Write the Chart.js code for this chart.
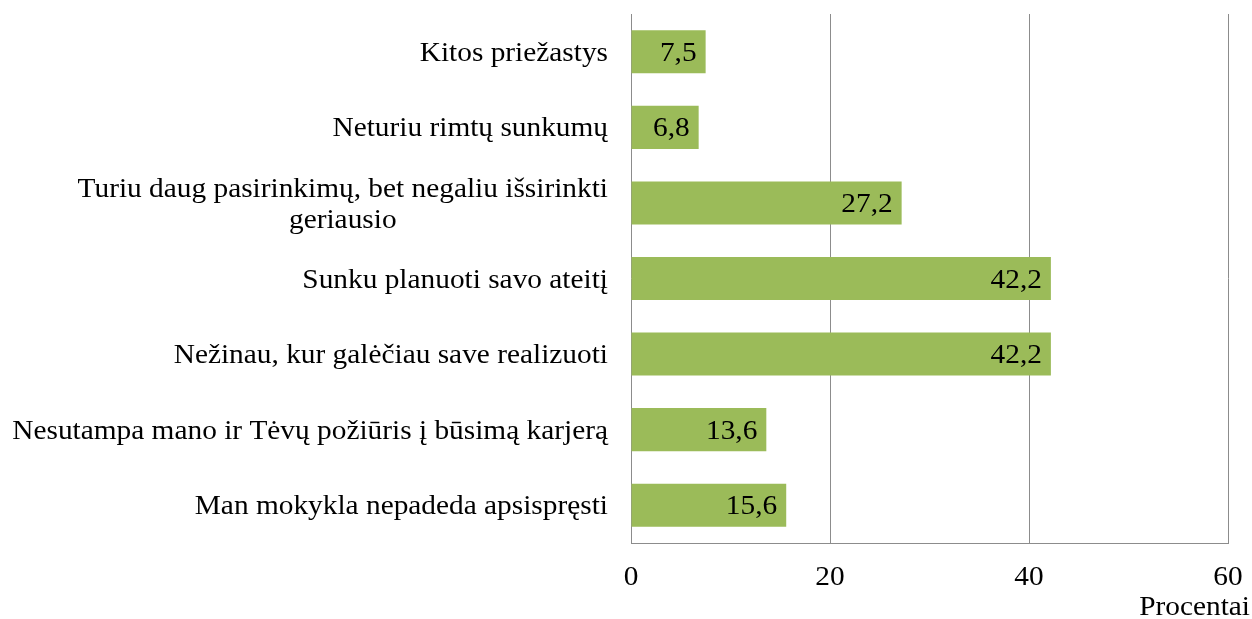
<!DOCTYPE html>
<html>
<head>
<meta charset="utf-8">
<script src="https://cdn.jsdelivr.net/npm/chart.js@4"></script>
<style>
html, body { margin: 0; padding: 0; background: #fff; }
#wrap { width: 1252px; height: 619px; }
</style>
</head>
<body>
<div id="wrap"><canvas id="c"></canvas></div>
<script>
// duomenys
var categories = [
    ["Kitos priežastys"],
    ["Neturiu rimtų sunkumų"],
    ["Turiu daug pasirinkimų, bet negaliu išsirinkti", "geriausio"],
    ["Sunku planuoti savo ateitį"],
    ["Nežinau, kur galėčiau save realizuoti"],
    ["Nesutampa mano ir Tėvų požiūris į būsimą karjerą"],
    ["Man mokykla nepadeda apsispręsti"]
];
var values = [7.5, 6.8, 27.2, 42.2, 42.2, 13.6, 15.6];
var xTicks = [0, 20, 40, 60];
var axisTitle = "Procentai";

var fontFamily = '"Liberation Serif", "Times New Roman", serif';
var fontSize = 27;
var stretch = 1.087; // originalo tekstas šiek tiek ištemptas horizontaliai

// tekstas su horizontaliu ištempimu
function drawText(ctx, text, x, y, align) {
    ctx.save();
    ctx.translate(x, y);
    ctx.scale(stretch, 1);
    ctx.textAlign = align;
    ctx.fillText(text, 0, 0);
    ctx.restore();
}

// reikšmės ant stulpelių, kategorijos, ašies žymės ir pavadinimas
var labelPlugin = {
    id: 'labels',
    afterDatasetsDraw: function(chart) {
        var ctx = chart.ctx;
        var meta = chart.getDatasetMeta(0);
        ctx.save();
        ctx.font = fontSize + 'px ' + fontFamily;
        ctx.fillStyle = '#000';
        ctx.textBaseline = 'middle';

        meta.data.forEach(function(bar, i) {
            drawText(ctx, values[i].toFixed(1).replace('.', ','), bar.x - 9, bar.y + 2, 'right');
        });

        var yScale = chart.scales.y;
        var right = chart.chartArea.left - 23;
        categories.forEach(function(lines, i) {
            var cy = yScale.getPixelForValue(i) + 2;
            var w = 0;
            lines.forEach(function(l) { w = Math.max(w, ctx.measureText(l).width * stretch); });
            var cx = right - w / 2;
            lines.forEach(function(l, j) {
                drawText(ctx, l, cx, cy + (j - (lines.length - 1) / 2) * 31, 'center');
            });
        });

        var xScale = chart.scales.x;
        xTicks.forEach(function(v) {
            drawText(ctx, String(v), xScale.getPixelForValue(v), 578, 'center');
        });

        drawText(ctx, axisTitle, chart.width - 2, 608, 'right');
        ctx.restore();
    }
};

new Chart(document.getElementById('c'), {
    type: 'bar',
    data: {
        labels: categories,
        datasets: [{
            data: values,
            backgroundColor: '#9bbb59',
            borderWidth: 0,
            barPercentage: 0.57,
            categoryPercentage: 1
        }]
    },
    options: {
        indexAxis: 'y',
        responsive: true,
        maintainAspectRatio: false,
        animation: false,
        layout: { padding: { top: 14, right: 24, left: 0, bottom: 0 } },
        plugins: {
            legend: { display: false },
            tooltip: { enabled: false }
        },
        scales: {
            x: {
                min: xTicks[0],
                max: xTicks[xTicks.length - 1],
                afterBuildTicks: function(scale) {
                    scale.ticks = xTicks.map(function(v) { return { value: v }; });
                },
                afterFit: function(scale) { scale.height = 76; },
                grid: { color: '#8c8c8c', lineWidth: 1, drawTicks: false },
                border: { display: true, color: '#8c8c8c' },
                ticks: { display: false }
            },
            y: {
                afterFit: function(scale) { scale.width = 631; },
                grid: { display: false },
                border: { display: false },
                ticks: { display: false }
            }
        }
    },
    plugins: [labelPlugin]
});
</script>
</body>
</html>
